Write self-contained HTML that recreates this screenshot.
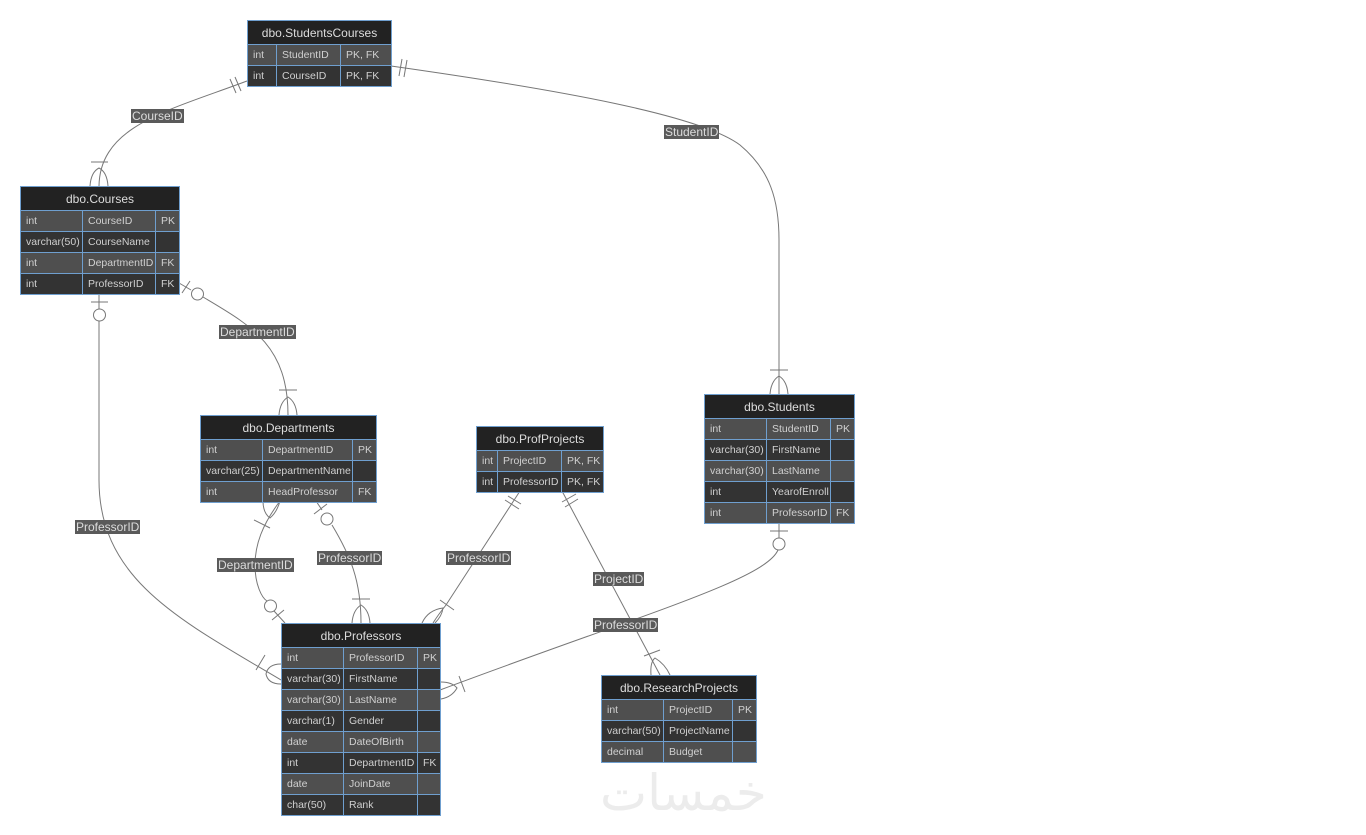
<!DOCTYPE html>
<html><head><meta charset="utf-8"><style>
html,body{margin:0;padding:0;background:#fff;width:1366px;height:835px;overflow:hidden;font-family:"Liberation Sans",sans-serif;}
.t{position:absolute;border-collapse:collapse;table-layout:fixed;font-size:10.5px;color:#d0d0d0;}
.t td{border:1px solid #6f9fcf;height:21px;padding:0 0 0 5px;white-space:nowrap;overflow:hidden;box-sizing:border-box;}
.t th{background:#222;color:#ddd;font-weight:normal;font-size:12px;height:24px;border:1px solid #6f9fcf;box-sizing:border-box;padding:0;}
.t tr.a td{background:#4f4f4f;}
.t tr.b td{background:#333;}
.lb{position:absolute;background:#5a5a5a;color:#dcdcdc;font-size:12px;line-height:14px;padding:0 1px;}
svg{position:absolute;left:0;top:0;}
.wm{position:absolute;left:600px;top:764px;font-size:50px;color:#ececec;font-family:"DejaVu Sans",sans-serif;letter-spacing:2px;}
</style></head><body>
<div class="wm">خمسات</div>
<svg width="1366" height="835" fill="none" stroke="#777" stroke-width="1">
<path d="M247,81 C170,110 100,125 99,186"/>
<path d="M230,79 L236,93 M235,77 L241,91"/>
<path d="M91,162 H108 M90,186 Q91,172 99,168 Q107,172 108,186"/>
<path d="M391,66 C560,90 700,115 740,145 C770,170 779,200 779,240 L779,394"/>
<path d="M399,76 L402,59 M404,77 L407,60"/>
<path d="M770,370 H788 M770,394 Q771,381 779,376 Q787,381 788,394"/>
<path d="M179,283 L191,290 M203,297 C250,325 288,345 288,415"/>
<path d="M182,293 L190,281"/>
<circle cx="197.5" cy="294" r="6"/>
<path d="M279,390 H297 M279,415 Q280,402 288,397 Q296,402 297,415"/>
<path d="M99,294 V309 M99,321 V480 C99,580 180,620 281,680"/>
<path d="M91,302 H108"/>
<circle cx="99.5" cy="315" r="6"/>
<path d="M256,670 L265,655 M281,664 Q268,664 266,674 Q268,684 281,684"/>
<path d="M280,501 C262,525 255,545 255,565 C255,585 262,598 267,601 M274,611 L285,623"/>
<path d="M263,501 Q263,513 270,518 Q277,512 280,501 M254,520 L270,528"/>
<circle cx="270.5" cy="606" r="6"/>
<path d="M272,620 L284,610"/>
<path d="M316,501 L322,510 M332,525 C350,555 361,580 361,623"/>
<path d="M314,514 L327,504"/>
<circle cx="327" cy="519" r="6"/>
<path d="M352,599 H370 M352,623 Q353,610 361,605 Q369,610 370,623"/>
<path d="M520,491 L446,605 Q438,615 433,623"/>
<path d="M505,500 L519,509 M508,496 L521,504"/>
<path d="M440,600 L454,610 M422,623 Q428,610 443,608 Q442,616 435,623"/>
<path d="M562,491 L660,675"/>
<path d="M562,502 L576,494 M565,507 L578,499"/>
<path d="M644,656 L660,650 M651,675 Q650,662 655,658 Q665,664 670,675"/>
<path d="M779,522 V538 M778,550 C765,580 640,615 440,690"/>
<path d="M770,531 H788"/>
<circle cx="779" cy="544" r="6"/>
<path d="M459,676 L465,692 M441,682 Q452,682 457,688 Q452,697 441,699"/>
</svg>
<div class="lb" style="left:131px;top:109px;">CourseID</div>
<div class="lb" style="left:664px;top:125px;">StudentID</div>
<div class="lb" style="left:219px;top:325px;">DepartmentID</div>
<div class="lb" style="left:75px;top:520px;">ProfessorID</div>
<div class="lb" style="left:217px;top:558px;">DepartmentID</div>
<div class="lb" style="left:317px;top:551px;">ProfessorID</div>
<div class="lb" style="left:446px;top:551px;">ProfessorID</div>
<div class="lb" style="left:593px;top:572px;">ProjectID</div>
<div class="lb" style="left:593px;top:618px;">ProfessorID</div>

<table class="t" style="left:247px;top:20px;width:144px;">
<colgroup><col style="width:29px"><col style="width:64px"><col style="width:51px"></colgroup>
<tr><th colspan="3">dbo.StudentsCourses</th></tr>
<tr class="a"><td>int</td><td>StudentID</td><td>PK, FK</td></tr>
<tr class="b"><td>int</td><td>CourseID</td><td>PK, FK</td></tr>
</table>

<table class="t" style="left:20px;top:186px;width:159px;">
<colgroup><col style="width:62px"><col style="width:73px"><col style="width:24px"></colgroup>
<tr><th colspan="3">dbo.Courses</th></tr>
<tr class="a"><td>int</td><td>CourseID</td><td>PK</td></tr>
<tr class="b"><td>varchar(50)</td><td>CourseName</td><td></td></tr>
<tr class="a"><td>int</td><td>DepartmentID</td><td>FK</td></tr>
<tr class="b"><td>int</td><td>ProfessorID</td><td>FK</td></tr>
</table>

<table class="t" style="left:200px;top:415px;width:176px;">
<colgroup><col style="width:62px"><col style="width:90px"><col style="width:24px"></colgroup>
<tr><th colspan="3">dbo.Departments</th></tr>
<tr class="a"><td>int</td><td>DepartmentID</td><td>PK</td></tr>
<tr class="b"><td>varchar(25)</td><td>DepartmentName</td><td></td></tr>
<tr class="a"><td>int</td><td>HeadProfessor</td><td>FK</td></tr>
</table>

<table class="t" style="left:476px;top:426px;width:127px;">
<colgroup><col style="width:21px"><col style="width:64px"><col style="width:42px"></colgroup>
<tr><th colspan="3">dbo.ProfProjects</th></tr>
<tr class="a"><td>int</td><td>ProjectID</td><td>PK, FK</td></tr>
<tr class="b"><td>int</td><td>ProfessorID</td><td>PK, FK</td></tr>
</table>

<table class="t" style="left:704px;top:394px;width:150px;">
<colgroup><col style="width:62px"><col style="width:64px"><col style="width:24px"></colgroup>
<tr><th colspan="3">dbo.Students</th></tr>
<tr class="a"><td>int</td><td>StudentID</td><td>PK</td></tr>
<tr class="b"><td>varchar(30)</td><td>FirstName</td><td></td></tr>
<tr class="a"><td>varchar(30)</td><td>LastName</td><td></td></tr>
<tr class="b"><td>int</td><td>YearofEnroll</td><td></td></tr>
<tr class="a"><td>int</td><td>ProfessorID</td><td>FK</td></tr>
</table>

<table class="t" style="left:281px;top:623px;width:159px;">
<colgroup><col style="width:62px"><col style="width:74px"><col style="width:23px"></colgroup>
<tr><th colspan="3">dbo.Professors</th></tr>
<tr class="a"><td>int</td><td>ProfessorID</td><td>PK</td></tr>
<tr class="b"><td>varchar(30)</td><td>FirstName</td><td></td></tr>
<tr class="a"><td>varchar(30)</td><td>LastName</td><td></td></tr>
<tr class="b"><td>varchar(1)</td><td>Gender</td><td></td></tr>
<tr class="a"><td>date</td><td>DateOfBirth</td><td></td></tr>
<tr class="b"><td>int</td><td>DepartmentID</td><td>FK</td></tr>
<tr class="a"><td>date</td><td>JoinDate</td><td></td></tr>
<tr class="b"><td>char(50)</td><td>Rank</td><td></td></tr>
</table>

<table class="t" style="left:601px;top:675px;width:155px;">
<colgroup><col style="width:62px"><col style="width:69px"><col style="width:24px"></colgroup>
<tr><th colspan="3">dbo.ResearchProjects</th></tr>
<tr class="a"><td>int</td><td>ProjectID</td><td>PK</td></tr>
<tr class="b"><td>varchar(50)</td><td>ProjectName</td><td></td></tr>
<tr class="a"><td>decimal</td><td>Budget</td><td></td></tr>
</table>
</body></html>
